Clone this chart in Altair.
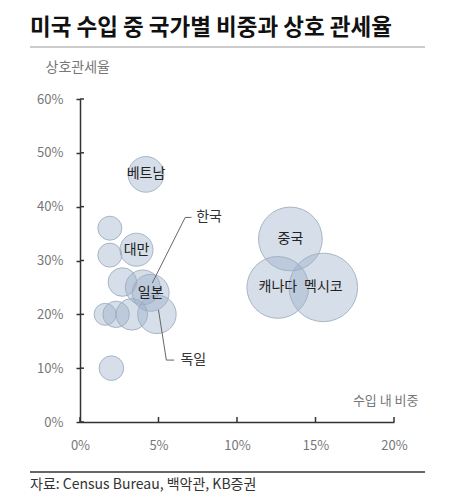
import altair as alt
import pandas as pd

# ---- data ----
countries = ["멕시코", "중국", "캐나다", "독일", "일본", "베트남", "한국", "대만",
             "아일랜드", "인도", "이탈리아", "스위스", "태국", "영국", "프랑스"]
share = [15.5, 13.4, 12.6, 4.9, 4.5, 4.2, 4.0, 3.6, 3.3, 2.7, 2.3, 1.9, 1.9, 2.0, 1.6]
tariff = [25, 34, 25, 20, 24, 46, 25, 32, 20, 26, 20, 31, 36, 10, 20]
inner_label = ["멕시코", "중국", "캐나다", "", "일본", "베트남", "", "대만",
               "", "", "", "", "", "", ""]

x_ticks = [0, 5, 10, 15, 20]
y_ticks = [0, 10, 20, 30, 40, 50, 60]

# callout leader lines (data units)
callout_group = ["한국", "한국", "한국", "독일", "독일", "독일"]
callout_order = [0, 1, 2, 0, 1, 2]
callout_x = [4.6, 6.7, 7.1, 5.0, 5.5, 6.0]
callout_y = [25.8, 38.0, 38.0, 20.8, 11.5, 11.5]
callout_names = ["한국", "독일"]
callout_label_x = [7.4, 6.4]
callout_label_y = [38.0, 11.5]

title_text = "미국 수입 중 국가별 비중과 상호 관세율"
source_text = "자료: Census Bureau, 백악관, KB증권"

FONT = "Noto Sans CJK KR"
W, H = 314, 323

df = pd.DataFrame({"country": countries, "share": share, "tariff": tariff,
                   "label": inner_label})
callouts = pd.DataFrame({"grp": callout_group, "ord": callout_order,
                         "x": callout_x, "y": callout_y})
callout_labels = pd.DataFrame({"name": callout_names, "x": callout_label_x,
                               "y": callout_label_y})
xt = pd.DataFrame({"v": x_ticks})
yt = pd.DataFrame({"v": y_ticks})

xs = alt.Scale(domain=[0, 20], nice=False)
ys = alt.Scale(domain=[0, 60], nice=False)

x_axis = alt.Axis(
    values=x_ticks, labelExpr="datum.value + '%'", grid=False,
    ticks=False, tickSize=0, domainColor="#333", domainWidth=1.5,
    labelColor="#777", labelFontSize=13, labelFont=FONT, labelPadding=17,
    labelFlush=False,
    title="수입 내 비중", titleX=W + 24, titleY=-22, titleAlign="right",
    titleBaseline="middle", titleColor="#777", titleFontSize=13,
    titleFont=FONT, titleFontWeight="normal")
y_axis = alt.Axis(
    values=y_ticks, labelExpr="datum.value + '%'", grid=False,
    tickSize=4, tickColor="#333", tickWidth=1.5,
    domainColor="#333", domainWidth=1.5, labelFlush=False,
    labelColor="#777", labelFontSize=13, labelFont=FONT, labelPadding=13,
    title="상호관세율", titleAngle=0, titleX=-35, titleY=-32,
    titleAlign="left", titleBaseline="middle", titleColor="#777",
    titleFontSize=14, titleFont=FONT, titleFontWeight="normal")


def X(field):
    return alt.X(field, scale=xs, axis=x_axis, title="수입 내 비중")


def Y(field):
    return alt.Y(field, scale=ys, axis=y_axis, title="상호관세율")


bubbles = alt.Chart(df).mark_circle(
    fill="#96acc8", fillOpacity=0.4, stroke="#9eabbd", strokeWidth=1,
    strokeOpacity=0.85, opacity=1
).encode(
    x=X("share:Q"),
    y=Y("tariff:Q"),
    size=alt.Size("share:Q", scale=alt.Scale(domain=[0, 15.5], range=[0, 4700]),
                  legend=None),
)

inner_text = alt.Chart(df).mark_text(font=FONT, fontSize=14, color="#222").encode(
    x=X("share:Q"), y=Y("tariff:Q"), text="label:N",
)

leader = alt.Chart(callouts).mark_line(color="#666", strokeWidth=1).encode(
    x=X("x:Q"), y=Y("y:Q"), detail="grp:N", order="ord:Q",
)

leader_text = alt.Chart(callout_labels).mark_text(
    font=FONT, fontSize=14, color="#333", align="left", baseline="middle"
).encode(x=X("x:Q"), y=Y("y:Q"), text="name:N")

ytick_in = alt.Chart(yt).mark_rule(color="#333", strokeWidth=1.5).encode(
    y=Y("v:Q"), x=alt.value(0), x2=alt.value(4))
xtick_in = alt.Chart(xt).mark_rule(color="#333", strokeWidth=1.5).encode(
    x=X("v:Q"), y=alt.value(H), y2=alt.value(H - 5))

title = alt.Chart(pd.DataFrame({"t": [title_text]})).mark_text(
    font=FONT, fontSize=22.5, fontWeight="bold", color="#111",
    align="left", baseline="middle"
).encode(x=alt.value(-50), y=alt.value(-71), text="t:N")

title_rule = alt.Chart(pd.DataFrame({"a": [0]})).mark_rule(
    color="#bbb", strokeWidth=1.5
).encode(x=alt.value(-50), x2=alt.value(345), y=alt.value(-52))

source_rule = alt.Chart(pd.DataFrame({"a": [0]})).mark_rule(
    color="#333", strokeWidth=1.5
).encode(x=alt.value(-50), x2=alt.value(345), y=alt.value(373))

source = alt.Chart(pd.DataFrame({"t": [source_text]})).mark_text(
    font=FONT, fontSize=14, color="#333", align="left", baseline="middle"
).encode(x=alt.value(-50), y=alt.value(386), text="t:N")

chart = alt.layer(
    bubbles, inner_text, leader, leader_text, ytick_in, xtick_in,
    title, title_rule, source_rule, source
).properties(
    width=W, height=H,
    autosize=alt.AutoSizeParams(type="none"),
    padding={"left": 72, "top": 91, "right": 48, "bottom": 75},
).configure_view(stroke=None)

chart.save("out.html", embed_options={"renderer": "svg", "actions": False})
